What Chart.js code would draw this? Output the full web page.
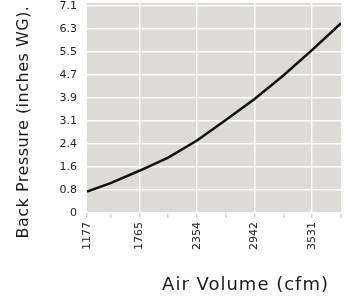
<!DOCTYPE html>
<html>
<head>
<meta charset="utf-8">
<script src="https://cdn.jsdelivr.net/npm/chart.js@4"></script>
<style>
  html, body { margin: 0; padding: 0; background: #fff; }
  #wrap { width: 349px; height: 300px; }
</style>
</head>
<body>
<div id="wrap"><canvas id="chart"></canvas></div>
<script>
// air volume (cfm) and back pressure (inches WG)
const airVolume = [1230, 1471, 1765, 2059, 2354, 2648, 2942, 3236, 3531, 3825];
const backPressure = [0.73, 1.02, 1.44, 1.89, 2.47, 3.17, 3.89, 4.69, 5.56, 6.47];

const xTickLabels = ['1177', '', '1765', '', '2354', '', '2942', '', '3531', ''];
const yTickValues = [0, 0.785, 1.57, 2.355, 3.14, 3.925, 4.71, 5.495, 6.28, 7.065];
const yTickLabels = ['0', '0.8', '1.6', '2.4', '3.1', '3.9', '4.7', '5.5', '6.3', '7.1'];

const plotBg = {
    id: 'plotBg',
    beforeDraw(chart) {
        const a = chart.chartArea, c = chart.ctx;
        c.save();
        c.fillStyle = '#dcdbd7';
        c.fillRect(a.left, a.top, a.right - a.left, a.bottom - a.top);
        c.restore();
    }
};

const axisTitles = {
    id: 'axisTitles',
    afterDraw(chart) {
        const c = chart.ctx, a = chart.chartArea;
        c.save();
        c.fillStyle = '#1a1a1a';
        c.font = '18px "DejaVu Sans"';
        c.letterSpacing = '1px';
        c.textAlign = 'right';
        c.textBaseline = 'middle';
        c.fillText('Air Volume (cfm)', a.right - 12, 285);
        c.font = '16px "DejaVu Sans"';
        c.letterSpacing = '0.5px';
        c.translate(24, 122);
        c.rotate(-Math.PI / 2);
        c.textAlign = 'center';
        c.fillText('Back Pressure (inches WG).', 0, 0);
        c.restore();
    }
};

const ctx = document.getElementById('chart');
new Chart(ctx, {
    type: 'line',
    data: {
        datasets: [{
            data: airVolume.map((x, i) => ({ x: x, y: backPressure[i] })),
            borderColor: '#111',
            borderWidth: 2.5,
            pointRadius: 0,
            tension: 0,
            fill: false
        }]
    },
    options: {
        responsive: true,
        maintainAspectRatio: false,
        animation: false,
        layout: { padding: { top: 3, right: 8, left: 0, bottom: 0 } },
        plugins: { legend: { display: false }, tooltip: { enabled: false } },
        scales: {
            x: {
                type: 'linear',
                min: 1230,
                max: 3825,
                afterBuildTicks: (scale) => {
                    scale.ticks = airVolume.map(v => ({ value: v }));
                },
                afterFit: (scale) => {
                    scale.height = 87;
                    scale.paddingLeft = 0;
                    scale.paddingRight = 0;
                },
                border: { display: false },
                grid: {
                    color: (c) => (c.index % 2 === 0 && c.index > 0) ? '#ffffff' : 'rgba(0,0,0,0)',
                    tickColor: '#d4d4d4',
                    tickLength: 5,
                    lineWidth: 1.5
                },
                ticks: {
                    autoSkip: false,
                    minRotation: 90,
                    maxRotation: 90,
                    padding: 4,
                    color: '#222',
                    font: { family: 'DejaVu Sans', size: 11 },
                    callback: (v, i) => xTickLabels[i]
                }
            },
            y: {
                min: 0,
                max: 7.16,
                afterBuildTicks: (scale) => {
                    scale.ticks = yTickValues.map(v => ({ value: v }));
                },
                afterFit: (scale) => {
                    scale.width = 87;
                    scale.paddingTop = 0;
                    scale.paddingBottom = 0;
                },
                border: { display: false },
                grid: {
                    color: '#ffffff',
                    lineWidth: 1.5,
                    drawTicks: false
                },
                ticks: {
                    padding: 10,
                    color: '#222',
                    font: { family: 'DejaVu Sans', size: 11 },
                    callback: (v, i) => yTickLabels[i]
                }
            }
        }
    },
    plugins: [plotBg, axisTitles]
});
</script>
</body>
</html>
